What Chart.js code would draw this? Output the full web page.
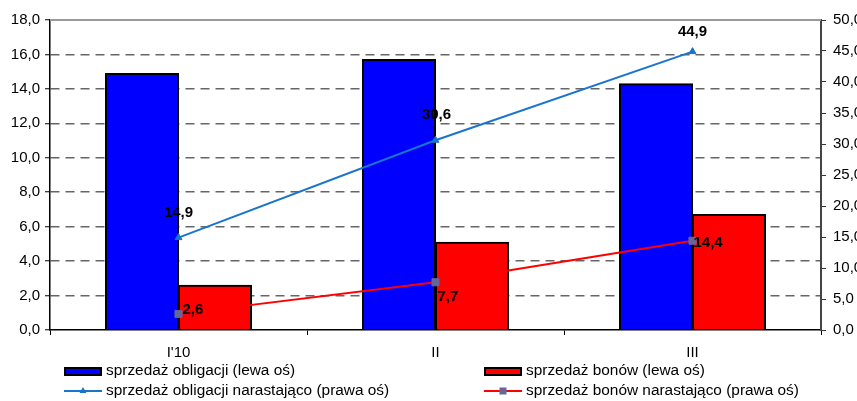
<!DOCTYPE html>
<html>
<head>
<meta charset="utf-8">
<script src="https://cdn.jsdelivr.net/npm/chart.js@4/dist/chart.umd.min.js"></script>
<style>
  html, body { margin: 0; padding: 0; background: #fff; overflow: hidden; }
  #wrap { width: 857px; height: 401px; position: relative; }
</style>
</head>
<body>
<div id="wrap"><canvas id="c" width="857" height="401"></canvas></div>
<script>
// Months of the year and monthly / cumulative sales figures
const categories = ["I'10", "II", "III"];
const bondSales = [14.9, 15.7, 14.3];        // sprzedaż obligacji (lewa oś)
const billSales = [2.6, 5.1, 6.7];           // sprzedaż bonów (lewa oś)
const bondCumulative = [14.9, 30.6, 44.9];   // obligacje narastająco (prawa oś)
const billCumulative = [2.6, 7.7, 14.4];     // bony narastająco (prawa oś)

// Axis ranges
const leftAxis = { min: 0, max: 18, step: 2 };
const rightAxis = { min: 0, max: 50, step: 5 };

const FONT = '"Liberation Sans", Arial, Helvetica, sans-serif';
const fmt = v => Number(v).toFixed(1).replace('.', ',');

Chart.defaults.font.family = FONT;
Chart.defaults.color = '#000';

// Values written next to the cumulative line points
const pointLabels = {
  id: 'pointLabels',
  afterDatasetsDraw(chart, args, opts) {
    const ctx = chart.ctx;
    chart.data.datasets.forEach((ds, i) => {
      const place = opts.placement[i];
      if (!place) return;
      const meta = chart.getDatasetMeta(i);
      meta.data.forEach((pt, j) => {
        const p = place[j];
        ctx.save();
        ctx.font = 'bold 15px ' + FONT;
        ctx.fillStyle = '#000';
        ctx.textAlign = p.align;
        ctx.textBaseline = 'middle';
        ctx.fillText(fmt(ds.data[j]), pt.x + p.dx, pt.y + p.dy);
        ctx.restore();
      });
    });
  }
};

// Two-column legend under the axis
const legendGrid = {
  id: 'legendGrid',
  afterDraw(chart, args, opts) {
    const ctx = chart.ctx;
    chart.data.datasets.forEach((ds, i) => {
      const s = opts.slots[i];
      const w = opts.symbolWidth;
      ctx.save();
      if ((ds.type || chart.config.type) === 'bar') {
        ctx.fillStyle = ds.backgroundColor;
        ctx.fillRect(s.x + 1, s.y - 3, w - 2, 7);
        ctx.strokeStyle = '#000';
        ctx.lineWidth = 2;
        ctx.strokeRect(s.x + 1, s.y - 3, w - 2, 7);
      } else {
        ctx.strokeStyle = ds.borderColor;
        ctx.lineWidth = 2;
        ctx.beginPath();
        ctx.moveTo(s.x, s.y);
        ctx.lineTo(s.x + w, s.y);
        ctx.stroke();
        const cx = s.x + w / 2;
        ctx.fillStyle = ds.pointBackgroundColor;
        if (ds.pointStyle === 'triangle') {
          const r = ds.pointRadius;
          ctx.beginPath();
          ctx.moveTo(cx, s.y - r);
          ctx.lineTo(cx + r * 0.866, s.y + r * 0.5);
          ctx.lineTo(cx - r * 0.866, s.y + r * 0.5);
          ctx.closePath();
          ctx.fill();
        } else {
          ctx.fillRect(cx - 3.5, s.y - 3.5, 7, 7);
        }
      }
      ctx.font = '15.4px ' + FONT;
      ctx.fillStyle = '#000';
      ctx.textAlign = 'left';
      ctx.textBaseline = 'middle';
      ctx.fillText(ds.label, s.x + w + 4, s.y);
      ctx.restore();
    });
  }
};

// Solid line closing the top of the plot area
const topFrame = {
  id: 'topFrame',
  beforeDatasetsDraw(chart) {
    const { ctx, chartArea: a } = chart;
    ctx.save();
    ctx.strokeStyle = '#9a9a9a';
    ctx.lineWidth = 2;
    ctx.beginPath();
    ctx.moveTo(a.left, a.top);
    ctx.lineTo(a.right, a.top);
    ctx.stroke();
    ctx.restore();
  }
};

const barStyle = {
  borderColor: '#000',
  borderWidth: 2,
  inflateAmount: 0.5,
  yAxisID: 'y',
  order: 2,
  categoryPercentage: 0.568,
  barPercentage: 1.0
};

new Chart(document.getElementById('c'), {
  type: 'bar',
  data: {
    labels: categories,
    datasets: [
      Object.assign({
        label: 'sprzedaż obligacji (lewa oś)',
        data: bondSales,
        backgroundColor: '#0000ff'
      }, barStyle),
      Object.assign({
        label: 'sprzedaż bonów (lewa oś)',
        data: billSales,
        backgroundColor: '#ff0000'
      }, barStyle),
      {
        type: 'line',
        label: 'sprzedaż obligacji narastająco (prawa oś)',
        data: bondCumulative,
        borderColor: '#1874cd',
        borderWidth: 2,
        pointStyle: 'triangle',
        pointRadius: 4,
        pointBackgroundColor: '#1874cd',
        pointBorderColor: '#1874cd',
        pointBorderWidth: 1,
        tension: 0,
        fill: false,
        yAxisID: 'y1',
        order: 1
      },
      {
        type: 'line',
        label: 'sprzedaż bonów narastająco (prawa oś)',
        data: billCumulative,
        borderColor: '#ff0000',
        borderWidth: 2,
        pointStyle: 'rect',
        pointRadius: 5,
        pointBackgroundColor: '#666699',
        pointBorderColor: '#666699',
        pointBorderWidth: 1,
        tension: 0,
        fill: false,
        yAxisID: 'y1',
        order: 1
      }
    ]
  },
  options: {
    responsive: false,
    animation: false,
    devicePixelRatio: 1,
    layout: { padding: { top: 20, bottom: 0, left: 0, right: 0 } },
    plugins: {
      legend: { display: false },
      tooltip: { enabled: false },
      pointLabels: {
        placement: {
          2: [
            { align: 'center', dx: 0, dy: -25 },
            { align: 'center', dx: 1, dy: -25 },
            { align: 'center', dx: 0, dy: -20 }
          ],
          3: [
            { align: 'left', dx: 4, dy: -4 },
            { align: 'left', dx: 2, dy: 15 },
            { align: 'left', dx: 1, dy: 2 }
          ]
        }
      },
      legendGrid: {
        symbolWidth: 38,
        slots: [
          { x: 64, y: 371 },
          { x: 484, y: 371 },
          { x: 64, y: 391 },
          { x: 484, y: 391 }
        ]
      }
    },
    scales: {
      x: {
        grid: {
          offset: true,
          drawOnChartArea: false,
          drawTicks: true,
          tickLength: 5,
          tickColor: '#000',
          tickWidth: 1
        },
        border: { color: '#000', width: 1.5 },
        ticks: { font: { size: 15 }, color: '#000', padding: 9, maxRotation: 0 },
        afterFit: s => { s.height = 71; }
      },
      y: {
        position: 'left',
        min: leftAxis.min,
        max: leftAxis.max,
        ticks: {
          stepSize: leftAxis.step,
          callback: v => fmt(v),
          font: { size: 15 },
          color: '#000',
          padding: 5
        },
        grid: {
          color: c => (c.tick && (c.tick.value === leftAxis.min || c.tick.value === leftAxis.max)) ? 'rgba(0,0,0,0)' : '#666',
          lineWidth: 1.5,
          drawTicks: true,
          tickLength: 5,
          tickColor: '#000',
          tickWidth: 1
        },
        border: { color: '#000', width: 1.5, dash: [9, 6] },
        afterFit: s => { s.width = 50; }
      },
      y1: {
        position: 'right',
        min: rightAxis.min,
        max: rightAxis.max,
        ticks: {
          stepSize: rightAxis.step,
          callback: v => fmt(v),
          font: { size: 15 },
          color: '#000',
          padding: 7
        },
        grid: {
          drawOnChartArea: false,
          drawTicks: true,
          tickLength: 5,
          tickColor: '#333',
          tickWidth: 1
        },
        border: { color: '#444', width: 2 },
        afterFit: s => { s.width = 36; }
      }
    }
  },
  plugins: [pointLabels, legendGrid, topFrame]
});
</script>
</body>
</html>
